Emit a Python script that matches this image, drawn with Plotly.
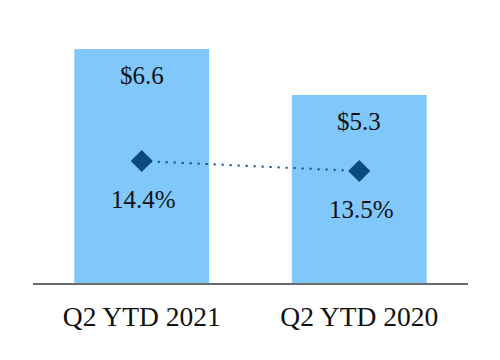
import plotly.graph_objects as go

categories = ["Q2 YTD 2021", "Q2 YTD 2020"]
revenue = [6.6, 5.3]
margin_pct = [14.4, 13.5]
revenue_labels = ["$6.6", "$5.3"]
pct_labels = ["14.4%", "13.5%"]

BAR = "#80C7FC"
DARK = "#0A4A7E"
FONT = "Liberation Serif"

fig = go.Figure()
fig.add_trace(go.Bar(x=categories, y=revenue, marker=dict(color=BAR, line=dict(width=0)),
                     width=0.62, hoverinfo="skip"))
fig.add_trace(go.Scatter(x=categories, y=margin_pct, yaxis="y2", mode="lines+markers",
                         line=dict(color=DARK, width=2, dash="2px,6px"),
                         marker=dict(symbol="diamond", size=17, color=DARK)))

for c, v, t in zip(categories, revenue, revenue_labels):
    fig.add_annotation(x=c, y=v, text=t, showarrow=False, yshift=-26, yanchor="middle",
                       font=dict(family=FONT, size=25, color="#111"))
for c, v, t in zip(categories, margin_pct, pct_labels):
    fig.add_annotation(x=c, y=v, yref="y2", text=t, showarrow=False, yshift=-38, yanchor="middle",
                       xshift=2, font=dict(family=FONT, size=25, color="#111"))

fig.update_layout(
    width=500, height=360,
    margin=dict(l=25, r=40, t=2, b=85),
    paper_bgcolor="white", plot_bgcolor="white",
    showlegend=False,
    xaxis=dict(showline=True, linecolor="#6a6a6a", linewidth=2, showgrid=False,
               tickfont=dict(family=FONT, size=27.5, color="#111"), ticks="", ticklabelstandoff=8,
               range=[-0.5, 1.5]),
    yaxis=dict(range=[0, 7.7], visible=False, showgrid=False),
    yaxis2=dict(range=[3.42, 28.0], overlaying="y", visible=False, showgrid=False),
)
fig.write_html("out.html")
